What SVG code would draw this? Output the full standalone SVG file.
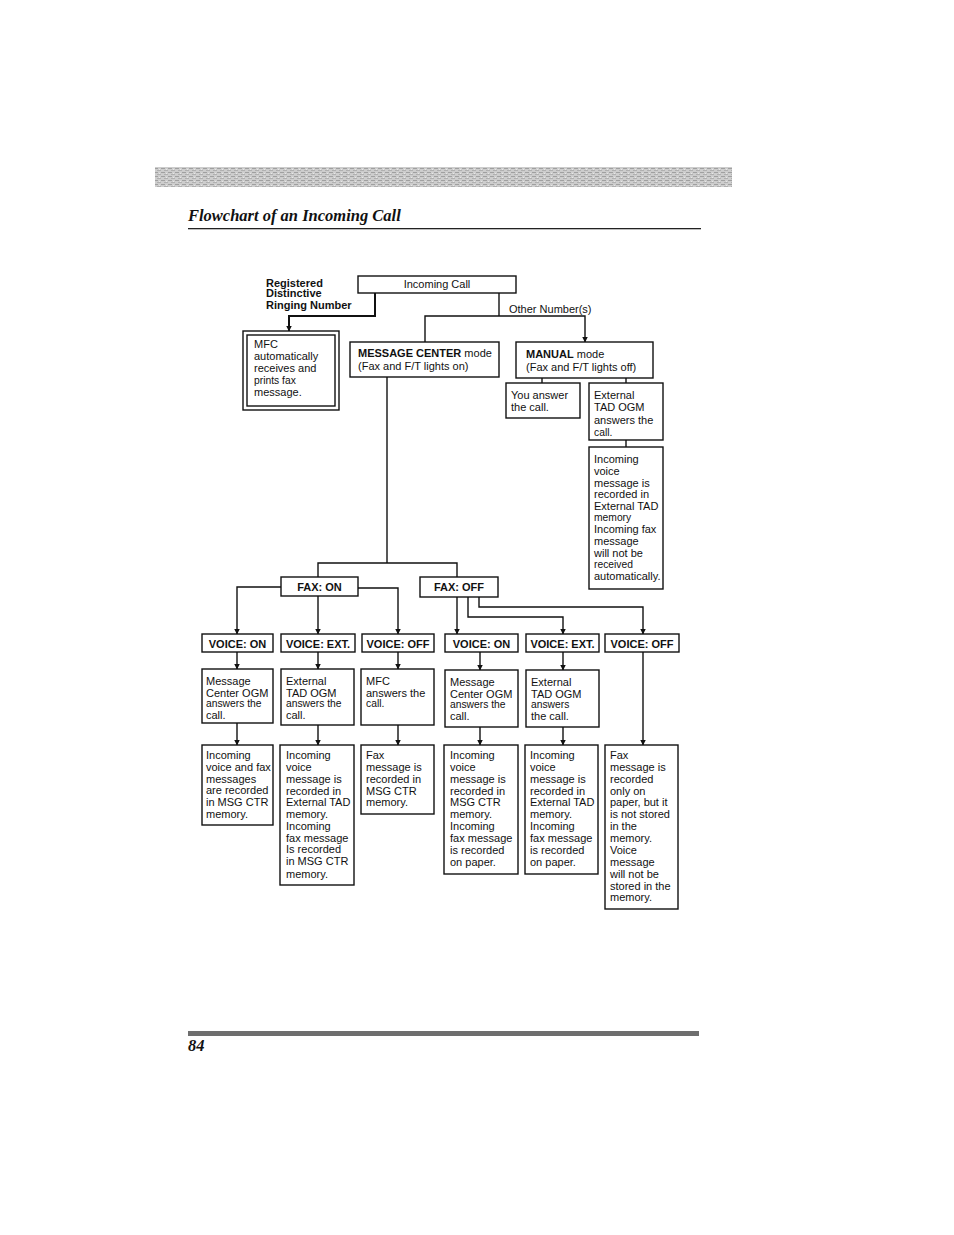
<svg xmlns="http://www.w3.org/2000/svg" width="954" height="1235" viewBox="0 0 954 1235">
<defs>
<pattern id="band" width="7" height="4" patternUnits="userSpaceOnUse">
<rect width="7" height="4" fill="#cdcdcd"/>
<rect x="0" y="0" width="4" height="1" fill="#a0a0a0"/>
<rect x="3" y="2" width="4" height="1" fill="#b0b0b0"/>
<rect x="5" y="1" width="1" height="1" fill="#e8e8e8"/>
</pattern>
<marker id="ah" markerWidth="6" markerHeight="7" refX="5.5" refY="3.5" orient="auto" markerUnits="userSpaceOnUse">
<path d="M0,0.5 L6,3.5 L0,6.5 Z" fill="#111"/>
</marker>
</defs>
<style>
text{font-family:"Liberation Sans",Arial,sans-serif;font-size:11px;fill:#111}
.b{font-weight:bold}
.s{font-size:10.3px}
.c{text-anchor:middle}
.box{fill:#fff;stroke:#111;stroke-width:1.4}
.ln{fill:none;stroke:#111;stroke-width:1.4}
.ttl{font-family:"Liberation Serif","Times New Roman",serif;font-weight:bold;font-style:italic;font-size:16.5px}
</style>
<rect width="954" height="1235" fill="#fff"/>
<rect x="155" y="167" width="577" height="20" fill="url(#band)"/>
<text class="ttl" x="188" y="221">Flowchart of an Incoming Call</text>
<rect x="188" y="228" width="513" height="1.3" fill="#222"/>
<rect x="188" y="1031" width="511" height="5" fill="#6e6e6e"/>
<text class="ttl" x="188" y="1051" style="font-size:16.5px">84</text>

<g id="connectors">
<path class="ln" d="M375,293 V316 H289 V331" style="stroke-width:2" marker-end="url(#ah)"/>
<path class="ln" d="M499,293 V316"/>
<path class="ln" d="M425,342 V316 H585 V342" marker-end="url(#ah)"/>
<path class="ln" d="M542,378 V383"/>
<path class="ln" d="M626,378 V383"/>
<path class="ln" d="M626,440 V447"/>
<path class="ln" d="M387,376 V563"/>
<path class="ln" d="M318,577 V563 H457 V577"/>
<path class="ln" d="M281,587 H237 V634" marker-end="url(#ah)"/>
<path class="ln" d="M318,596 V634" marker-end="url(#ah)"/>
<path class="ln" d="M358,588 H398 V634" marker-end="url(#ah)"/>
<path class="ln" d="M457,597 V634" marker-end="url(#ah)"/>
<path class="ln" d="M468,597 V617 H563 V634" marker-end="url(#ah)"/>
<path class="ln" d="M479,597 V607 H643 V634" marker-end="url(#ah)"/>
<path class="ln" d="M237,652 V669" marker-end="url(#ah)"/>
<path class="ln" d="M318,652 V669" marker-end="url(#ah)"/>
<path class="ln" d="M398,652 V669" marker-end="url(#ah)"/>
<path class="ln" d="M480,652 V670" marker-end="url(#ah)"/>
<path class="ln" d="M563,652 V670" marker-end="url(#ah)"/>
<path class="ln" d="M643,652 V745" marker-end="url(#ah)"/>
<path class="ln" d="M237,723 V745" marker-end="url(#ah)"/>
<path class="ln" d="M318,725 V745" marker-end="url(#ah)"/>
<path class="ln" d="M398,725 V745" marker-end="url(#ah)"/>
<path class="ln" d="M480,727 V745" marker-end="url(#ah)"/>
<path class="ln" d="M563,727 V745" marker-end="url(#ah)"/>
</g>

<g id="registered">
<text class="b" x="266" y="287">Registered</text>
<text class="b" x="266" y="297">Distinctive</text>
<text class="b" x="266" y="309">Ringing Number</text>
</g>
<text x="509" y="313">Other Number(s)</text>

<g id="incoming-call">
<rect class="box" x="358" y="276" width="158" height="17"/>
<text class="c" x="437" y="288">Incoming Call</text>
</g>

<g id="mfc-auto">
<rect class="box" x="243" y="331" width="96" height="79"/>
<rect class="box" x="247" y="335" width="88" height="71"/>
<text x="254" y="348">MFC</text>
<text x="254" y="360">automatically</text>
<text x="254" y="372">receives and</text>
<text class="s" x="254" y="384">prints fax</text>
<text x="254" y="396">message.</text>
</g>

<g id="message-center">
<rect class="box" x="350" y="342" width="149" height="35"/>
<text x="358" y="357"><tspan class="b">MESSAGE CENTER</tspan> mode</text>
<text x="358" y="370">(Fax and F/T lights on)</text>
</g>

<g id="manual">
<rect class="box" x="516" y="342" width="137" height="36"/>
<text x="526" y="358"><tspan class="b">MANUAL</tspan> mode</text>
<text x="526" y="371">(Fax and F/T lights off)</text>
</g>

<g id="you-answer">
<rect class="box" x="506" y="383" width="74" height="35"/>
<text x="511" y="399">You answer</text>
<text x="511" y="411">the call.</text>
</g>

<g id="ext-tad-manual">
<rect class="box" x="589" y="383" width="74" height="57"/>
<text x="594" y="399">External</text>
<text x="594" y="411">TAD OGM</text>
<text x="594" y="424">answers the</text>
<text class="s" x="594" y="436">call.</text>
</g>

<g id="manual-result">
<rect class="box" x="589" y="447" width="74" height="142"/>
<text x="594" y="463">Incoming</text>
<text x="594" y="475">voice</text>
<text x="594" y="487">message is</text>
<text x="594" y="498">recorded in</text>
<text x="594" y="510">External TAD</text>
<text class="s" x="594" y="521">memory</text>
<text x="594" y="533">Incoming fax</text>
<text x="594" y="545">message</text>
<text x="594" y="557">will not be</text>
<text class="s" x="594" y="568">received</text>
<text x="594" y="580">automatically.</text>
</g>

<g id="fax-on">
<rect class="box" x="281" y="577" width="77" height="19"/>
<text class="b c" x="319.5" y="591">FAX: ON</text>
</g>
<g id="fax-off">
<rect class="box" x="420" y="577" width="78" height="20"/>
<text class="b c" x="459" y="591">FAX: OFF</text>
</g>

<g id="voice-on-1">
<rect class="box" x="202" y="634" width="71" height="18"/>
<text class="b c" x="237.5" y="648">VOICE: ON</text>
</g>
<g id="voice-ext-1">
<rect class="box" x="281" y="634" width="74" height="18"/>
<text class="b c" x="318" y="648">VOICE: EXT.</text>
</g>
<g id="voice-off-1">
<rect class="box" x="362" y="634" width="72" height="18"/>
<text class="b c" x="398" y="648">VOICE: OFF</text>
</g>
<g id="voice-on-2">
<rect class="box" x="445" y="634" width="73" height="18"/>
<text class="b c" x="481.5" y="648">VOICE: ON</text>
</g>
<g id="voice-ext-2">
<rect class="box" x="526" y="634" width="73" height="18"/>
<text class="b c" x="562.5" y="648">VOICE: EXT.</text>
</g>
<g id="voice-off-2">
<rect class="box" x="605" y="634" width="74" height="18"/>
<text class="b c" x="642" y="648">VOICE: OFF</text>
</g>

<g id="ogm-1">
<rect class="box" x="202" y="669" width="71" height="54"/>
<text x="206" y="685">Message</text>
<text x="206" y="697">Center OGM</text>
<text class="s" x="206" y="707">answers the</text>
<text x="206" y="719">call.</text>
</g>
<g id="ogm-2">
<rect class="box" x="281" y="669" width="73" height="56"/>
<text x="286" y="685">External</text>
<text x="286" y="697">TAD OGM</text>
<text class="s" x="286" y="707">answers the</text>
<text x="286" y="719">call.</text>
</g>
<g id="ogm-3">
<rect class="box" x="361" y="669" width="73" height="56"/>
<text x="366" y="685">MFC</text>
<text x="366" y="697">answers the</text>
<text class="s" x="366" y="707">call.</text>
</g>
<g id="ogm-4">
<rect class="box" x="445" y="670" width="73" height="57"/>
<text x="450" y="686">Message</text>
<text x="450" y="698">Center OGM</text>
<text class="s" x="450" y="708">answers the</text>
<text x="450" y="720">call.</text>
</g>
<g id="ogm-5">
<rect class="box" x="526" y="670" width="73" height="57"/>
<text x="531" y="686">External</text>
<text x="531" y="698">TAD OGM</text>
<text class="s" x="531" y="708">answers</text>
<text x="531" y="720">the call.</text>
</g>

<g id="result-1">
<rect class="box" x="202" y="745" width="71" height="80"/>
<text x="206" y="759">Incoming</text>
<text x="206" y="771">voice and fax</text>
<text x="206" y="783">messages</text>
<text x="206" y="794">are recorded</text>
<text x="206" y="806">in MSG CTR</text>
<text x="206" y="818">memory.</text>
</g>
<g id="result-2">
<rect class="box" x="280" y="745" width="74" height="140"/>
<text x="286" y="759">Incoming</text>
<text x="286" y="771">voice</text>
<text x="286" y="783">message is</text>
<text x="286" y="795">recorded in</text>
<text x="286" y="806">External TAD</text>
<text x="286" y="818">memory.</text>
<text x="286" y="830">Incoming</text>
<text x="286" y="842">fax message</text>
<text x="286" y="853">Is recorded</text>
<text x="286" y="865">in MSG CTR</text>
<text x="286" y="878">memory.</text>
</g>
<g id="result-3">
<rect class="box" x="361" y="745" width="73" height="69"/>
<text x="366" y="759">Fax</text>
<text x="366" y="771">message is</text>
<text x="366" y="783">recorded in</text>
<text x="366" y="795">MSG CTR</text>
<text x="366" y="806">memory.</text>
</g>
<g id="result-4">
<rect class="box" x="444" y="745" width="74" height="129"/>
<text x="450" y="759">Incoming</text>
<text x="450" y="771">voice</text>
<text x="450" y="783">message is</text>
<text x="450" y="795">recorded in</text>
<text x="450" y="806">MSG CTR</text>
<text x="450" y="818">memory.</text>
<text x="450" y="830">Incoming</text>
<text x="450" y="842">fax message</text>
<text x="450" y="854">is recorded</text>
<text x="450" y="866">on paper.</text>
</g>
<g id="result-5">
<rect class="box" x="525" y="745" width="73" height="129"/>
<text x="530" y="759">Incoming</text>
<text x="530" y="771">voice</text>
<text x="530" y="783">message is</text>
<text x="530" y="795">recorded in</text>
<text x="530" y="806">External TAD</text>
<text x="530" y="818">memory.</text>
<text x="530" y="830">Incoming</text>
<text x="530" y="842">fax message</text>
<text x="530" y="854">is recorded</text>
<text x="530" y="866">on paper.</text>
</g>
<g id="result-6">
<rect class="box" x="605" y="745" width="73" height="164"/>
<text x="610" y="759">Fax</text>
<text x="610" y="771">message is</text>
<text x="610" y="783">recorded</text>
<text x="610" y="795">only on</text>
<text x="610" y="806">paper, but it</text>
<text x="610" y="818">is not stored</text>
<text x="610" y="830">in the</text>
<text x="610" y="842">memory.</text>
<text x="610" y="854">Voice</text>
<text x="610" y="866">message</text>
<text x="610" y="878">will not be</text>
<text x="610" y="890">stored in the</text>
<text x="610" y="901">memory.</text>
</g>
</svg>
